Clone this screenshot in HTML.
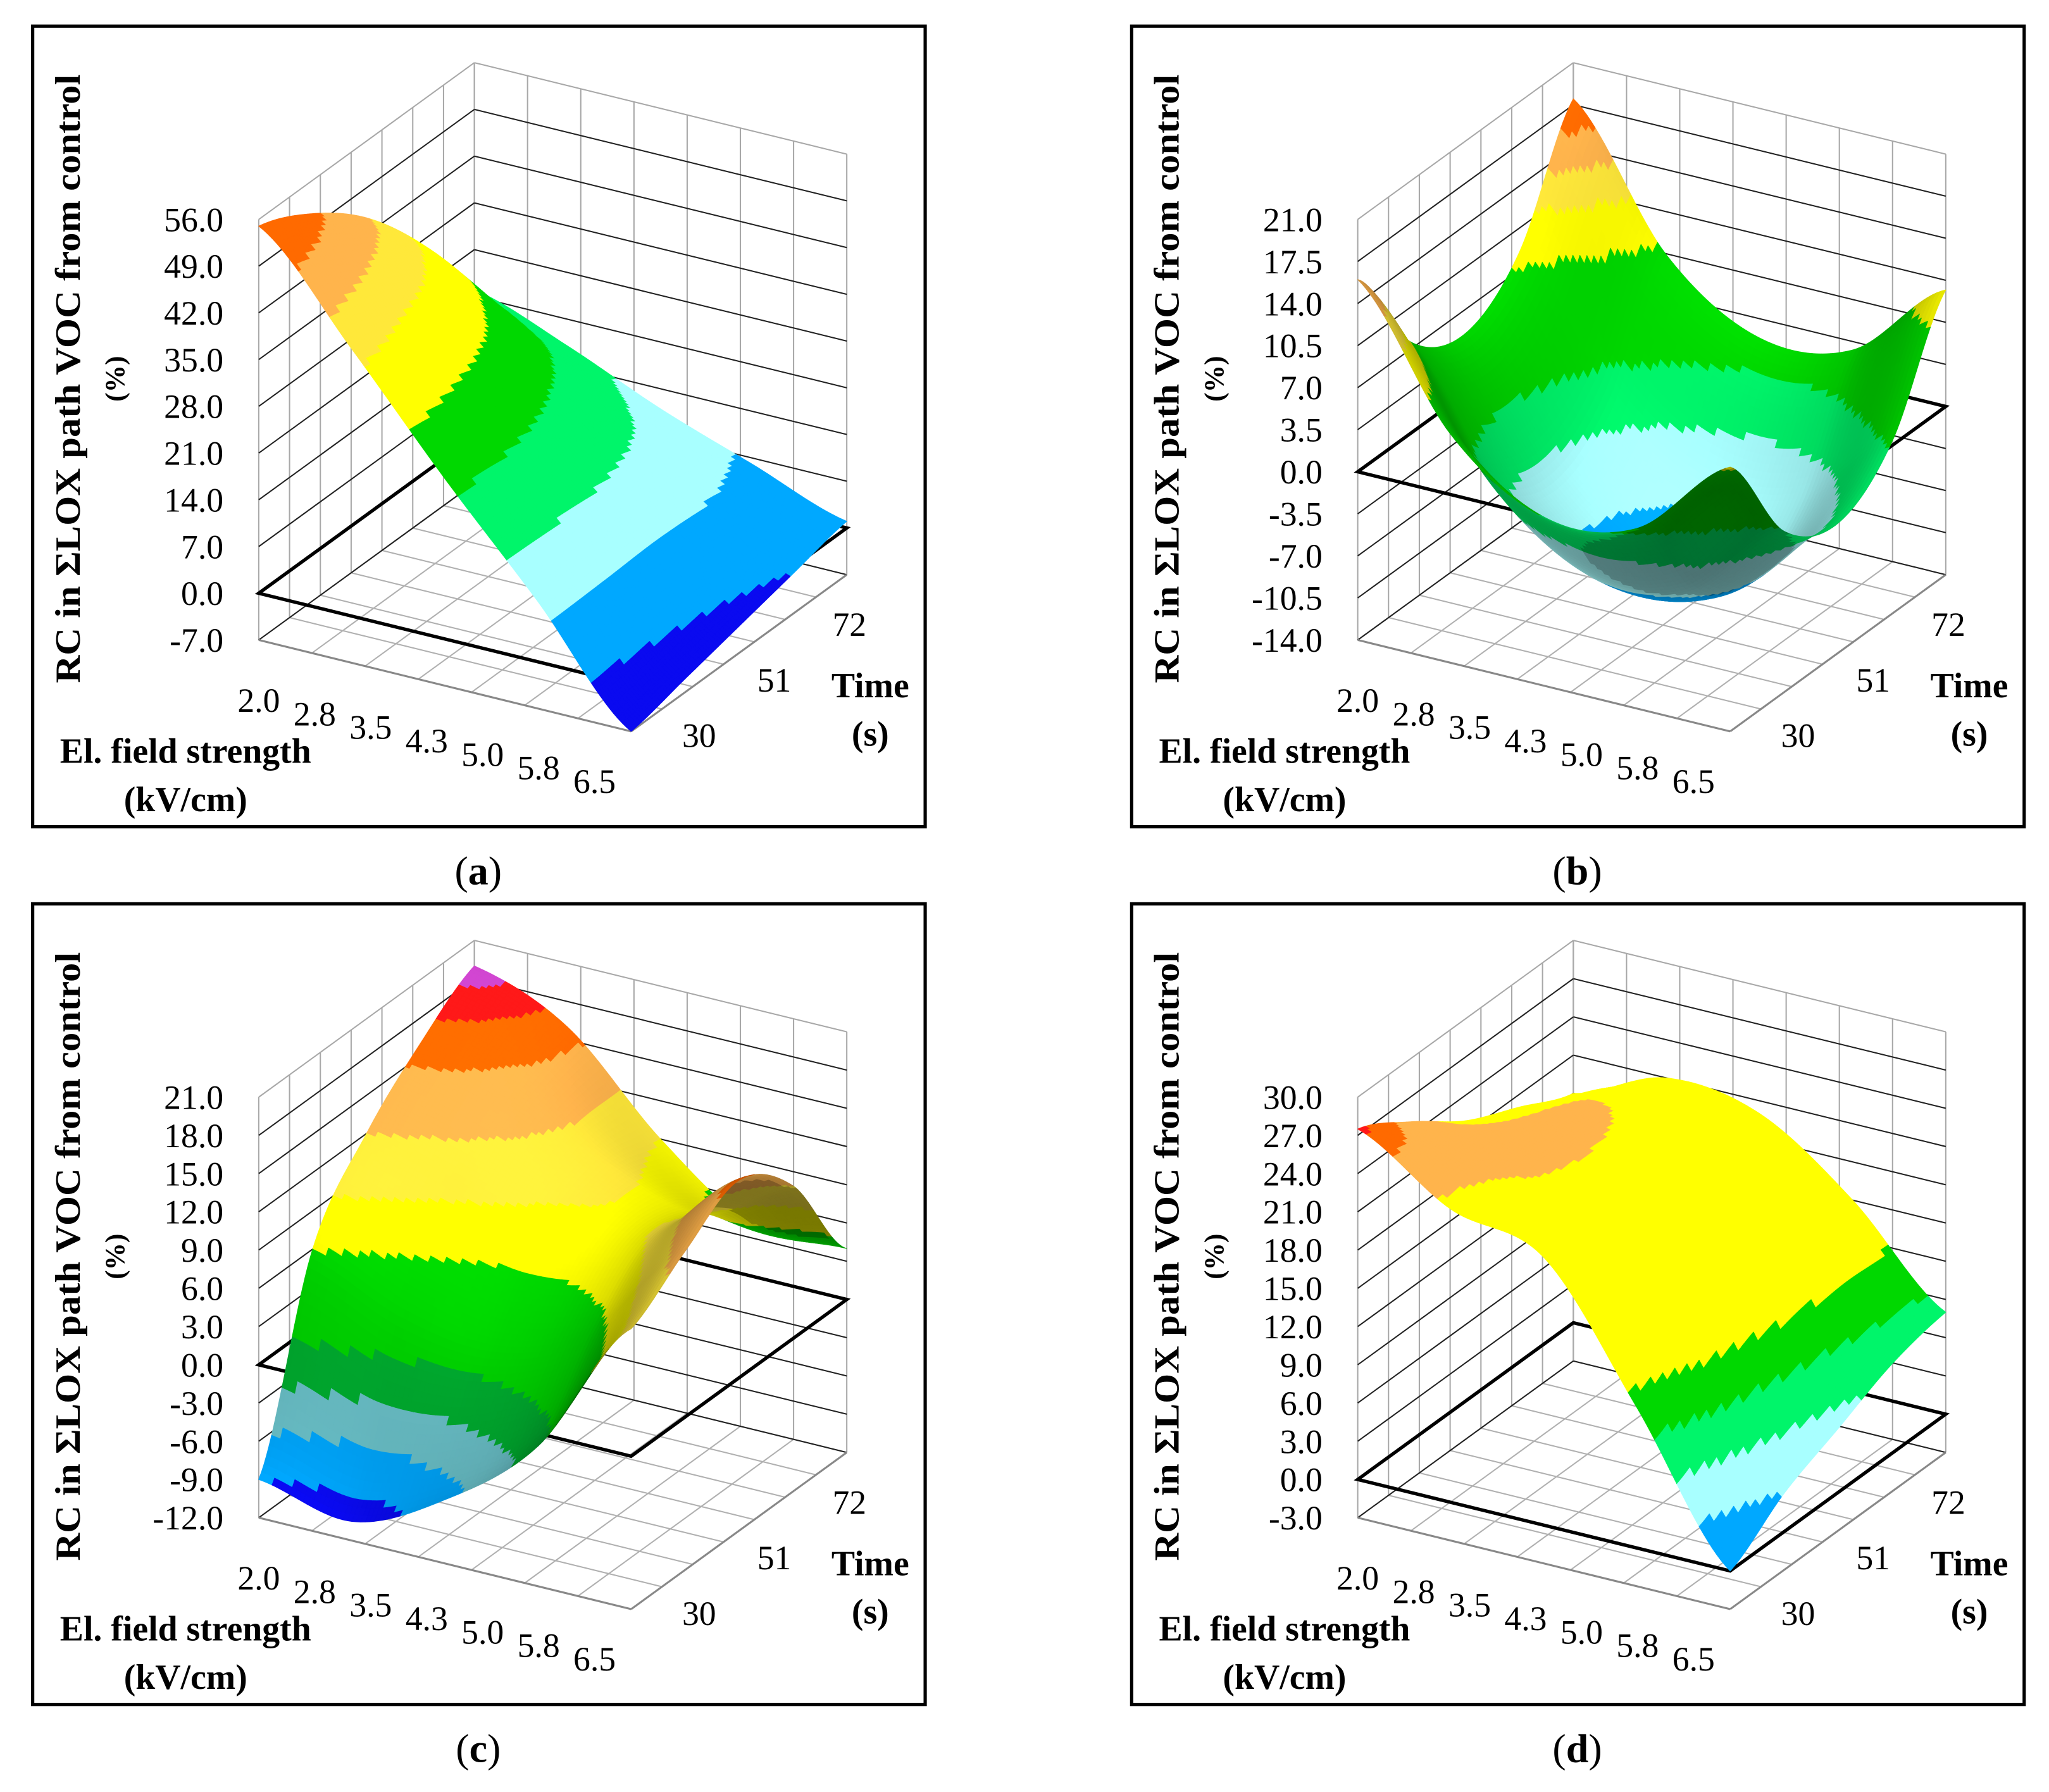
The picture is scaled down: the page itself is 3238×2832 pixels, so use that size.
<!DOCTYPE html>
<html><head><meta charset="utf-8"><style>
html,body{margin:0;padding:0;background:#fff;}
svg{display:block;}
text{font-family:"Liberation Serif",serif;fill:#000;}
.ttl{font-weight:bold;font-size:27px;}
.tk{font-size:26px;}
.pl{font-size:31px;}
</style></head><body>
<svg id="fig" width="3238" height="2832" viewBox="0 0 1568 1372" preserveAspectRatio="none" font-family="Liberation Serif, serif" xmlns="http://www.w3.org/2000/svg">
<rect x="0" y="0" width="1568" height="1372" fill="#fff"/>
<g id="pa" transform="translate(0,0)">
 <g class="plot"></g>
 <rect x="25" y="20" width="683" height="613" fill="none" stroke="#000" stroke-width="2.5"/>
 <text class="ttl" transform="translate(61,290) rotate(-90)" text-anchor="middle" textLength="466" lengthAdjust="spacingAndGlyphs">RC in ΣLOX path VOC from control</text>
 <text class="ttl" style="font-size:21px" transform="translate(95,290) rotate(-90)" text-anchor="middle">(%)</text>
 <text class="ttl" x="142" y="584" text-anchor="middle">El. field strength</text>
 <text class="ttl" x="142" y="621" text-anchor="middle">(kV/cm)</text>
 <text class="ttl" x="666" y="534" text-anchor="middle">Time</text>
 <text class="ttl" x="666" y="571" text-anchor="middle">(s)</text>
 <text class="pl" x="366" y="677" text-anchor="middle">(<tspan font-weight="bold">a</tspan>)</text>
</g>
<g id="pb" transform="translate(841,0)">
 <g class="plot"></g>
 <rect x="25" y="20" width="683" height="613" fill="none" stroke="#000" stroke-width="2.5"/>
 <text class="ttl" transform="translate(61,290) rotate(-90)" text-anchor="middle" textLength="466" lengthAdjust="spacingAndGlyphs">RC in ΣLOX path VOC from control</text>
 <text class="ttl" style="font-size:21px" transform="translate(95,290) rotate(-90)" text-anchor="middle">(%)</text>
 <text class="ttl" x="142" y="584" text-anchor="middle">El. field strength</text>
 <text class="ttl" x="142" y="621" text-anchor="middle">(kV/cm)</text>
 <text class="ttl" x="666" y="534" text-anchor="middle">Time</text>
 <text class="ttl" x="666" y="571" text-anchor="middle">(s)</text>
 <text class="pl" x="366" y="677" text-anchor="middle">(<tspan font-weight="bold">b</tspan>)</text>
</g>
<g id="pc" transform="translate(0,672)">
 <g class="plot"></g>
 <rect x="25" y="20" width="683" height="613" fill="none" stroke="#000" stroke-width="2.5"/>
 <text class="ttl" transform="translate(61,290) rotate(-90)" text-anchor="middle" textLength="466" lengthAdjust="spacingAndGlyphs">RC in ΣLOX path VOC from control</text>
 <text class="ttl" style="font-size:21px" transform="translate(95,290) rotate(-90)" text-anchor="middle">(%)</text>
 <text class="ttl" x="142" y="584" text-anchor="middle">El. field strength</text>
 <text class="ttl" x="142" y="621" text-anchor="middle">(kV/cm)</text>
 <text class="ttl" x="666" y="534" text-anchor="middle">Time</text>
 <text class="ttl" x="666" y="571" text-anchor="middle">(s)</text>
 <text class="pl" x="366" y="677" text-anchor="middle">(<tspan font-weight="bold">c</tspan>)</text>
</g>
<g id="pd" transform="translate(841,672)">
 <g class="plot"></g>
 <rect x="25" y="20" width="683" height="613" fill="none" stroke="#000" stroke-width="2.5"/>
 <text class="ttl" transform="translate(61,290) rotate(-90)" text-anchor="middle" textLength="466" lengthAdjust="spacingAndGlyphs">RC in ΣLOX path VOC from control</text>
 <text class="ttl" style="font-size:21px" transform="translate(95,290) rotate(-90)" text-anchor="middle">(%)</text>
 <text class="ttl" x="142" y="584" text-anchor="middle">El. field strength</text>
 <text class="ttl" x="142" y="621" text-anchor="middle">(kV/cm)</text>
 <text class="ttl" x="666" y="534" text-anchor="middle">Time</text>
 <text class="ttl" x="666" y="571" text-anchor="middle">(s)</text>
 <text class="pl" x="366" y="677" text-anchor="middle">(<tspan font-weight="bold">d</tspan>)</text>
</g>
</svg>
<script>
// ---- data ----
const fieldTicks = ['2.0','2.8','3.5','4.3','5.0','5.8','6.5'];
const timeTicks = ['30','51','72'];
const zTicksA = ['-7.0','0.0','7.0','14.0','21.0','28.0','35.0','42.0','49.0','56.0'];
const zTicksB = ['-14.0','-10.5','-7.0','-3.5','0.0','3.5','7.0','10.5','14.0','17.5','21.0'];
const zTicksC = ['-12.0','-9.0','-6.0','-3.0','0.0','3.0','6.0','9.0','12.0','15.0','18.0','21.0'];
const zTicksD = ['-3.0','0.0','3.0','6.0','9.0','12.0','15.0','18.0','21.0','24.0','27.0','30.0'];
// surface grids: rows = time 30, 40.5, 51, 61.5, 72 ; cols = field 2.0, 3.125, 4.25, 5.375, 6.5
const surfA = [
 [55, 40, 24, 9, -7],
 [51, 37, 23, 9, -5],
 [44.5, 33, 20.5, 9, -3],
 [34.8, 26, 16.5, 8, -1],
 [22, 17, 11, 6, 1]
];
const surfB = [
 [16, 5, 0, 1, 8],
 [7.5, -3.5, -8.5, -7.6, -0.6],
 [5, -6, -11.1, -10.1, -3.2],
 [8.5, -2.6, -7.6, -6.7, 0.3],
 [18, 6.9, 1.9, 2.8, 9.7]
];
const surfC = [
 [-9, -10.5, -7, -1, 10],
 [6, 3, 2, 5, 13],
 [12, 10, 8, 9, 15.5],
 [16, 14, 10, 8, 12],
 [19, 16, 9, 4, 4]
];
const surfD = [
 [27.5, 23, 21, 11, 0],
 [25, 24, 22, 14, 3],
 [22, 24, 22, 16, 5],
 [20, 23, 21, 16, 7],
 [18, 21, 20, 15, 8]
];
const levelsA = [-1, 7, 14, 22, 30, 38, 44, 50];
const levelsB = [-8.5, -4, 0, 7.5, 11, 13.5, 16];
const levelsC = [-9, -6, -3, 0, 6, 9, 12, 15, 17, 18.3];
const levelsD = [3, 6, 9, 12, 23.5, 26, 27.2];

const PAL = {db:'#0a0af0', b:'#00a8ff', lc:'#a8ffff', bg:'#00f56a', g:'#00d800', y:'#ffff00', yl:'#ffe83a', lo:'#ffb44c', o:'#ff6a00', r:'#ff1818', m:'#cc44cc', gc:'#6cc4cc', dg:'#00b030'};
const colsA = ['db','b','lc','bg','g','y','yl','lo','o'];
const colsB = ['b','lc','bg','g','y','yl','lo','o'];
const colsC = ['db','b','gc','dg','g','y','yl','lo','o','r','m'];
const colsD = ['b','lc','bg','g','y','lo','o','r'];

const panels = [
 {id:'pa', ticks:zTicksA, surf:surfA, lv:levelsA, cols:colsA, shade:false},
 {id:'pb', ticks:zTicksB, surf:surfB, lv:levelsB, cols:colsB, shade:true},
 {id:'pc', ticks:zTicksC, surf:surfC, lv:levelsC, cols:colsC, shade:true},
 {id:'pd', ticks:zTicksD, surf:surfD, lv:levelsD, cols:colsD, shade:false}
];

const NS='http://www.w3.org/2000/svg';
function mk(tag, attrs, parent){const e=document.createElementNS(NS,tag);for(const k in attrs)e.setAttribute(k,attrs[k]);parent.appendChild(e);return e;}
function cr(p,s){let i=Math.floor(s);if(i<0)i=0;if(i>p.length-2)i=p.length-2;const t=s-i;
 const p0=p[Math.max(i-1,0)],p1=p[i],p2=p[i+1],p3=p[Math.min(i+2,p.length-1)];
 return 0.5*((2*p1)+(-p0+p2)*t+(2*p0-5*p1+4*p2-p3)*t*t+(-p0+3*p1-3*p2+p3)*t*t*t);}
function interp(g,u,v){const col=g.map(r=>cr(r,u*(r.length-1)));return cr(col,v*(g.length-1));}
function hex2rgb(h){return [parseInt(h.substr(1,2),16),parseInt(h.substr(3,2),16),parseInt(h.substr(5,2),16)];}
function shadeCol(h,f){const c=hex2rgb(h).map(x=>Math.max(0,Math.min(255,Math.round(x*f))));return 'rgb('+c.join(',')+')';}

panels.forEach(P=>{
 const root=document.querySelector('#'+P.id+' .plot');
 const zmin=parseFloat(P.ticks[0]), zmax=parseFloat(P.ticks[P.ticks.length-1]);
 const k=322/(zmax-zmin);
 const X=(u,v)=>198+285*u+165*v;
 const Y=(u,v,z)=>490+70*u-120*v-(z-zmin)*k;
 const line=(a,b,stroke,w,name)=>{const l=mk('line',{x1:a[0],y1:a[1],x2:b[0],y2:b[1],stroke:stroke,'stroke-width':w},root);
  
  return l;};
 const pt=(u,v,z)=>[X(u,v),Y(u,v,z)];
 for(let i=0;i<=7;i++){
  const f=i/7;
  line(pt(0,f,zmin),pt(0,f,zmax),'#a8a8a8',1,'left-wall-gridline');
  line(pt(f,1,zmin),pt(f,1,zmax),'#a8a8a8',1,'back-wall-gridline');
  line(pt(f,0,zmin),pt(f,1,zmin),'#b0b0b0',1,'floor-gridline');
  line(pt(0,f,zmin),pt(1,f,zmin),'#b0b0b0',1,'floor-gridline');
 }
 P.ticks.forEach((t,i)=>{
  const z=parseFloat(t);
  const c=(i==P.ticks.length-1)?'#a8a8a8':'#222';
  line(pt(0,0,z),pt(0,1,z),c,1,'left-wall-z-gridline');
  line(pt(0,1,z),pt(1,1,z),c,1,'back-wall-z-gridline');
  const tx=mk('text',{x:171,y:Y(0,0,z)+9,'text-anchor':'end','class':'tk'},root);
  
  
  tx.textContent=t;
 });
 line(pt(0,0,zmin),pt(1,0,zmin),'#888',1.5,'floor-front-edge');
 line(pt(1,0,zmin),pt(1,1,zmin),'#888',1.5,'floor-right-edge');
 const zr=[pt(0,0,0),pt(1,0,0),pt(1,1,0),pt(0,1,0)];
 const rect=mk('polygon',{points:zr.map(p=>p.join(',')).join(' '),fill:'none',stroke:'#000','stroke-width':2.6},root);
 
 
 fieldTicks.forEach((t,i)=>{
  const f=i/(fieldTicks.length-1);
  const tx=mk('text',{x:198+257*f,y:545+62*f,'text-anchor':'middle','class':'tk'},root);
  
  
  tx.textContent=t;
 });
 timeTicks.forEach((t,i)=>{
  const f=i/(timeTicks.length-1);
  const tx=mk('text',{x:535+115*f,y:572-85*f,'text-anchor':'middle','class':'tk'},root);
  
  
  tx.textContent=t;
 });
 const N=84, quads=[];
 const Z=[];for(let j=0;j<=N;j++){Z[j]=[];for(let i=0;i<=N;i++)Z[j][i]=interp(P.surf,i/N,j/N);}
 for(let j=0;j<N;j++)for(let i=0;i<N;i++){
  const u0=i/N,u1=(i+1)/N,v0=j/N,v1=(j+1)/N;
  const zc=(Z[j][i]+Z[j][i+1]+Z[j+1][i]+Z[j+1][i+1])/4;
  quads.push({i,j,u0,u1,v0,v1,zc,key:(1-(u0+u1)/2)+(v0+v1)/2});
 }
 quads.sort((a,b)=>b.key-a.key);
 const sg=mk('g',{},root);
 
 
 const H=1/(zmax-zmin)*1.1;
 quads.forEach(q=>{
  const {i,j}=q;
  const p=[pt(q.u0,q.v0,Z[j][i]),pt(q.u1,q.v0,Z[j][i+1]),pt(q.u1,q.v1,Z[j+1][i+1]),pt(q.u0,q.v1,Z[j+1][i])];
  let ci=0;while(ci<P.lv.length&&q.zc>=P.lv[ci])ci++;
  let col=PAL[P.cols[ci]];
  if(P.shade){
   const dzu=((Z[j][i+1]+Z[j+1][i+1])-(Z[j][i]+Z[j+1][i]))/2*H*N;
   const dzv=((Z[j+1][i]+Z[j+1][i+1])-(Z[j][i]+Z[j][i+1]))/2*H*N;
   let n=[-dzu,-dzv,1];const nl=Math.hypot(...n);n=n.map(x=>x/nl);
   const V=[0.55,-0.55,0.63];
   const facing=n[0]*V[0]+n[1]*V[1]+n[2]*V[2];
   const L=[0.35,-0.45,0.82];
   const lam=Math.abs(n[0]*L[0]+n[1]*L[1]+n[2]*L[2]);
   const f=facing>0?(0.5+0.55*lam):(0.45+0.2*lam);
   col=shadeCol(col,Math.min(1.05,f));
  }
  const poly=mk('polygon',{points:p.map(a=>a[0].toFixed(2)+','+a[1].toFixed(2)).join(' '),fill:col,stroke:col,'stroke-width':0.5,'stroke-linejoin':'round'},sg);
  
  
 });
});
</script>
</body></html>
